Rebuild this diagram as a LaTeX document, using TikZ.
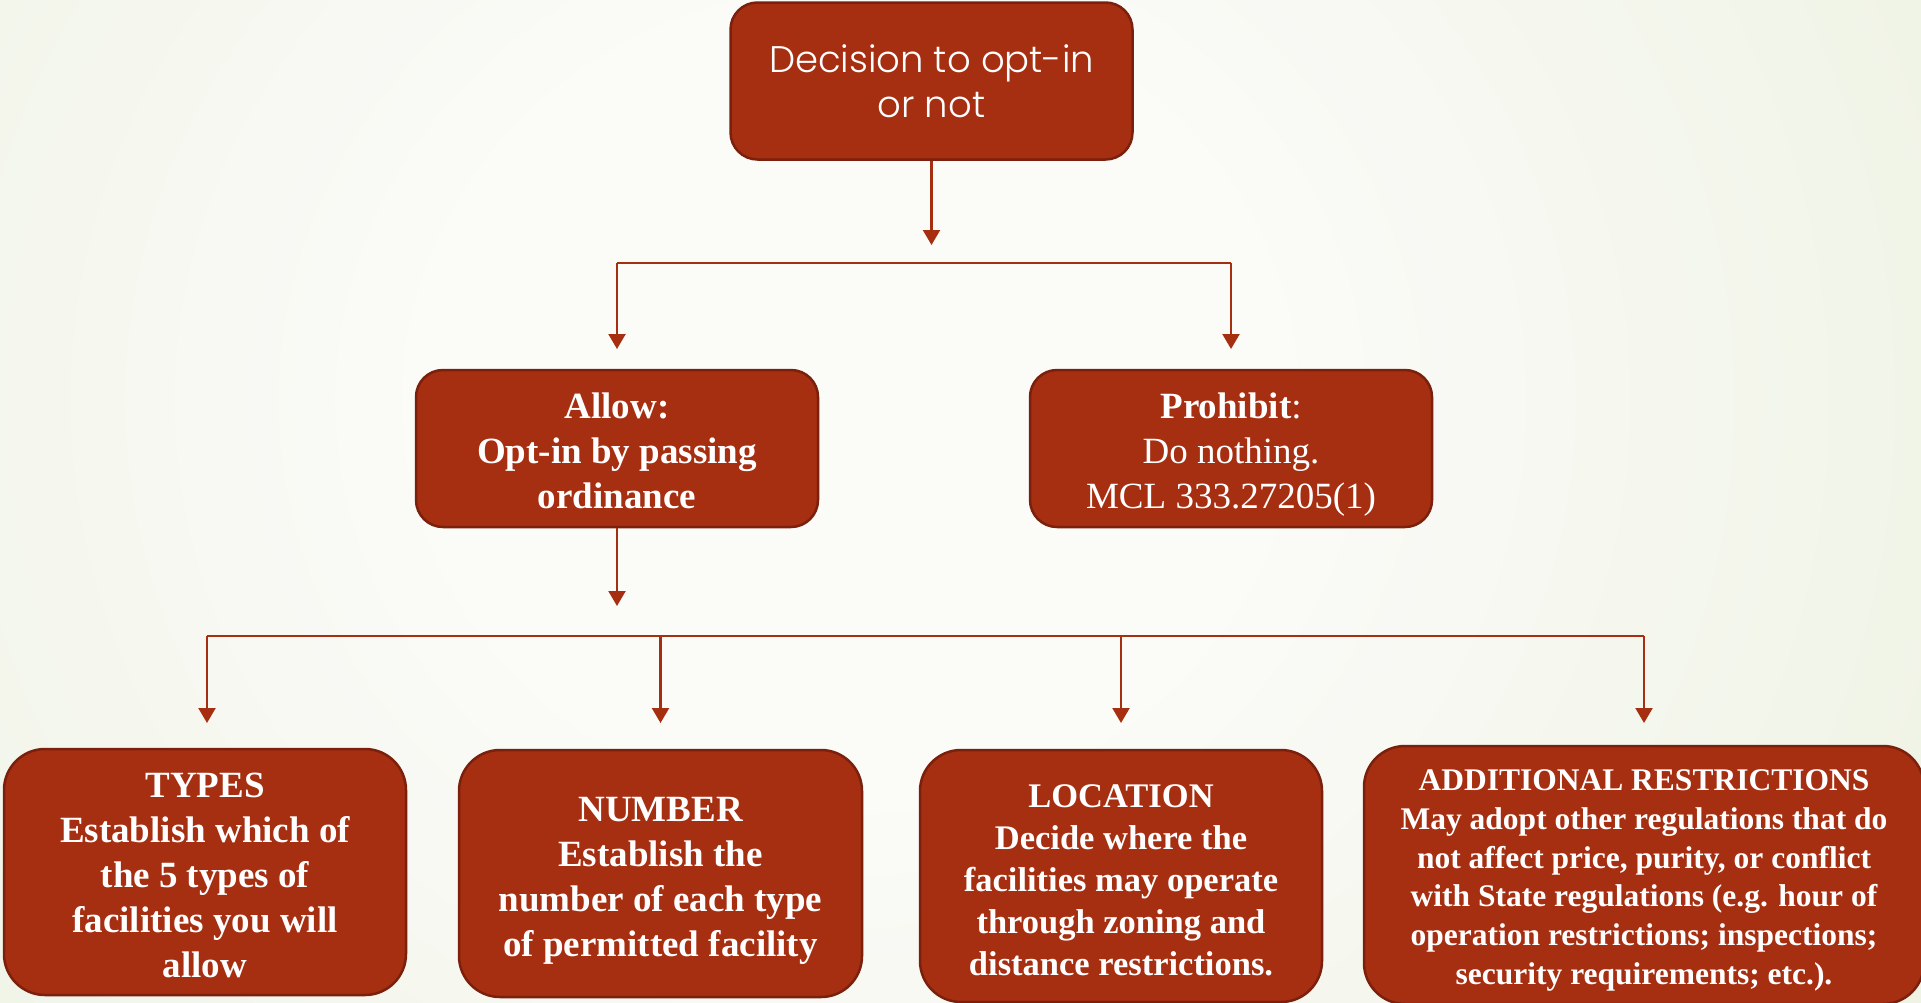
\documentclass[tikz,border=0pt]{standalone}
\usepackage{fontspec}
\setmainfont{Liberation Serif}
\newfontfamily\topfont{Poppins Light}
\usetikzlibrary{arrows.meta}
\definecolor{boxred}{RGB}{166,46,17}
\definecolor{boxedge}{RGB}{122,32,12}
\definecolor{bggreen}{RGB}{218,230,195}
\definecolor{bgwhite}{RGB}{251,251,248}
\pgfdeclareradialshading{bgshade}{\pgfpoint{0bp}{0bp}}{color(0bp)=(bgwhite); color(8bp)=(bgwhite); color(50bp)=(bggreen)}
\tikzset{
  boxbase/.style={draw=boxedge, line width=2.5pt, fill=boxred, inner sep=0pt},
  smallbox/.style={boxbase, minimum width=402pt, minimum height=157pt, rounded corners=27pt},
  bigbox/.style={boxbase, rounded corners=41pt},
  txt/.style={text=white, align=center, inner sep=0pt},
  conn/.style={draw=boxred, line width=2.2pt},
  arr/.style={conn, -{Triangle[width=17pt,length=15pt]}},
  bigtext/.style={font=\fontsize{37}{45}\selectfont},
  boldtext/.style={font=\bfseries\fontsize{37}{45}\selectfont},
}
\begin{document}
\begin{tikzpicture}[x=1pt,y=-1pt]
\useasboundingbox (0,0) rectangle (1921,1002);
\begin{scope}
\clip (0,0) rectangle (1921,1002);
\shade[shading=bgshade] (-450,-800) rectangle (2150,1600);

\node[smallbox] (top) at (931.5,81) {};
\node[txt, font=\topfont\fontsize{37}{45}\selectfont] (top-t) at (top.center) {Decision to opt-in\\or not};
\node[smallbox] (allow) at (617,448.5) {};
\node[txt, boldtext, yshift=-2.5pt] (allow-t) at (allow.center) {Allow:\\Opt-in by passing\\ordinance};
\node[smallbox] (prohibit) at (1231,448.5) {};
\node[txt, bigtext, yshift=-6pt] (prohibit-t) at (prohibit.center) {\textbf{Prohibit}:\\Do nothing.\\MCL 333.27205(1)};

\node[bigbox, minimum width=402pt, minimum height=246pt] (types) at (205,872) {};
\node[txt, boldtext, yshift=-3pt] (types-t) at (types.center) {TYPES\\Establish which of\\the 5 types of\\facilities you will\\allow};
\node[bigbox, minimum width=403pt, minimum height=247pt] (number) at (660.5,873.5) {};
\node[txt, boldtext, yshift=-7pt] (number-t) at (number.center) {NUMBER\\Establish the\\number of each type\\of permitted facility};
\node[bigbox, minimum width=402pt, minimum height=252pt] (location) at (1121,876) {};
\node[txt, font=\bfseries\fontsize{34.5}{42}\selectfont, yshift=-4pt] (location-t) at (location.center) {LOCATION\\Decide where the\\facilities may operate\\through zoning and\\distance restrictions.};
\node[bigbox, minimum width=560pt, minimum height=258pt] (additional) at (1644,875) {};
\node[txt, font=\bfseries\fontsize{31.5}{38.7}\selectfont, yshift=-5.5pt] (additional-t) at (additional.center) {ADDITIONAL RESTRICTIONS\\May adopt other regulations that do\\not affect price, purity, or conflict\\with State regulations (e.g. hour of\\operation restrictions; inspections;\\security requirements; etc.).};

\coordinate (t1) at (931.5,245);
\coordinate (h1l) at (617,263);
\coordinate (h1r) at (1231,263);
\coordinate (d1l) at (617,349);
\coordinate (d1r) at (1231,349);
\draw[arr] (top.south) -- (t1);
\draw[conn] (h1l) -- (h1r);
\draw[arr] (h1l) -- (d1l);
\draw[arr] (h1r) -- (d1r);

\coordinate (t2) at (617,606);
\coordinate (h2a) at (207,636);
\coordinate (h2b) at (660.5,636);
\coordinate (h2c) at (1121,636);
\coordinate (h2d) at (1644,636);
\coordinate (d2a) at (207,723);
\coordinate (d2b) at (660.5,723);
\coordinate (d2c) at (1121,723);
\coordinate (d2d) at (1644,723);
\draw[arr] (allow.south) -- (t2);
\draw[conn] (h2a) -- (h2d);
\draw[arr] (h2a) -- (d2a);
\draw[arr] (h2b) -- (d2b);
\draw[arr] (h2c) -- (d2c);
\draw[arr] (h2d) -- (d2d);
\end{scope}
\end{tikzpicture}
\end{document}
